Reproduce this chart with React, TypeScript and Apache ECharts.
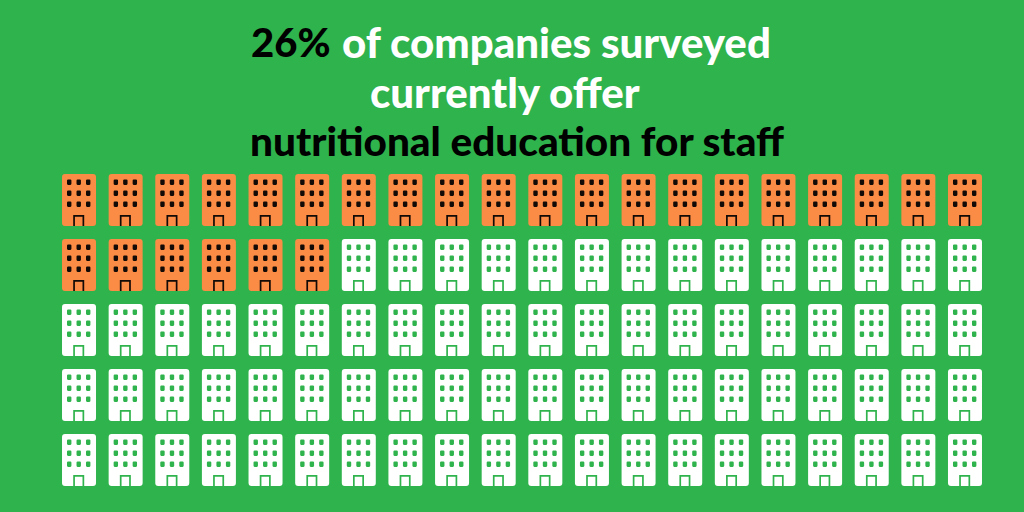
import React, { useEffect, useRef } from "react";
import * as echarts from "echarts";

const columns = ["1","2","3","4","5","6","7","8","9","10","11","12","13","14","15","16","17","18","19","20"];
const rows = ["1","2","3","4","5"];
const companiesTotal = 100;
const companiesOffering = 26;
const titleHighlight = "26%";
const titleLine1 = "of companies surveyed";
const titleLine2 = "currently offer";
const titleLine3 = "nutritional education for staff";

const BODY = "path://M3 0H31A3 3 0 0 1 34 3V49A3 3 0 0 1 31 52H3A3 3 0 0 1 0 49V3A3 3 0 0 1 3 0Z";
function win(x: number, y: number) {
  const w = 4.4, h = 5.4, r = 1.1;
  return `M${x + r} ${y}H${x + w - r}Q${x + w} ${y} ${x + w} ${y + r}V${y + h - r}Q${x + w} ${y + h} ${x + w - r} ${y + h}H${x + r}Q${x} ${y + h} ${x} ${y + h - r}V${y + r}Q${x} ${y} ${x + r} ${y}Z`;
}
const wins = [0, 9.5, 19].flatMap((x) => [0, 11, 22].map((y) => win(x, y))).join("");
const door = "M6.2 35.5H17.2V46.5H15.5V37.2H7.9V46.5H6.2Z";
const DETAIL = "path://" + wins + door;

const grid = rows.flatMap((r) => columns.map((c) => [c, r]));
const offering = grid.slice(0, companiesOffering);
const others = grid.slice(companiesOffering, companiesTotal);

const GREEN = "#2fb34c";
const ORANGE = "#fb8c45";
const FONT = "Lato, sans-serif";

function mark(name: string, data: string[][], symbol: string, size: number[], offset: number[], color: string, z: number) {
  return {
    type: "scatter", name, data, symbol, symbolSize: size, symbolOffset: offset,
    itemStyle: { color, opacity: 1 }, z, silent: true, symbolKeepAspect: false,
    coordinateSystem: "cartesian2d",
  };
}

export default function App() {
  const ref = useRef<HTMLDivElement>(null);
  useEffect(() => {
    const chart = echarts.init(ref.current!, undefined, { renderer: "svg" });
    const line = (text: string, x: number, y: number, fill: string, size: number) => ({
      type: "text", x, y,
      style: { text, fill, font: `900 ${size}px ${FONT}`, textAlign: "left", textVerticalAlign: "middle" },
    });
    chart.setOption({
      animation: false,
      backgroundColor: GREEN,
      grid: { left: 55.7, top: 167.5, width: 932.6, height: 325 },
      xAxis: { type: "category", data: columns, show: false },
      yAxis: { type: "category", data: rows, inverse: true, show: false },
      series: [
        mark("Offer: body", offering, BODY, [34, 52], [0, 0], ORANGE, 2),
        mark("Offer: detail", offering, DETAIL, [23.4, 46.5], [-0.3, 2.75], "#120a06", 3),
        mark("Others: body", others, BODY, [34, 52], [0, 0], "#ffffff", 2),
        mark("Others: detail", others, DETAIL, [23.4, 46.5], [-0.3, 2.75], GREEN, 3),
      ],
      graphic: [
        line(titleHighlight, 251, 42, "#000000", 40),
        line(titleLine1, 342, 42, "#ffffff", 42),
        line(titleLine2, 370, 92, "#ffffff", 42),
        line(titleLine3, 250, 140, "#000000", 40.5),
      ],
    });
    return () => chart.dispose();
  }, []);
  return <div ref={ref} style={{ position: "absolute", left: 0, top: 0, width: 1024, height: 512 }} />;
}
